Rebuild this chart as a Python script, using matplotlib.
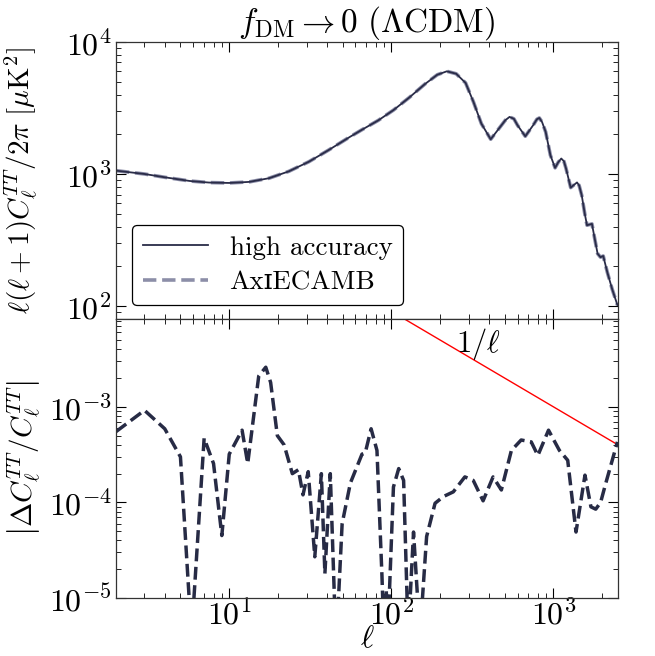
import numpy as np
import matplotlib
matplotlib.use('Agg')
import matplotlib.pyplot as plt

# %% Data
# top panel: l(l+1)C_l/2pi [muK^2]
ell_top = [2, 3, 4, 5.7, 7.5, 10, 13.3, 17.6, 23.3, 31, 41, 55, 66, 83, 103, 129,
           161, 192, 220, 251, 287, 321, 359, 410, 469, 505, 536, 570, 600, 670,
           749, 790, 818, 850, 895, 957, 1023, 1070, 1117, 1160, 1195, 1277, 1340,
           1397, 1440, 1494, 1560, 1610, 1727, 1800, 1871, 1950, 2027, 2150, 2300,
           2480]
dl_top = [1062, 1002, 946, 887, 863, 857, 873, 931, 1049, 1241, 1520, 1900, 2170,
          2550, 3050, 3800, 4800, 5650, 6000, 5750, 4900, 3515, 2410, 1835, 2275,
          2560, 2710, 2620, 2343, 1933, 2343, 2600, 2660, 2480, 2085, 1390, 1115,
          1230, 1312, 1250, 1103, 790, 830, 865, 820, 690, 500, 410, 420, 320, 250,
          235, 240, 180, 135, 102]

# bottom panel: relative difference
ell_bot = [2, 3, 4, 5, 5.85, 7, 8, 9, 10, 12, 13, 15.2, 16.8, 18, 19.8, 21.8, 24.5,
           26.7, 28.5, 30.7, 33.7, 37, 38.9, 42, 45.6, 49.7, 55.9, 65.9, 69, 75,
           81.5, 87.5, 90, 93, 95, 103, 111, 119, 127, 137, 150, 165, 186, 209,
           241, 284, 320, 368, 424, 477, 550, 632, 729, 801, 932, 1088, 1224,
           1377, 1564, 1702, 1822, 1953, 2100, 2480]
rel_bot = [5.5e-4, 9.2e-4, 5.9e-4, 3.0e-4, 4e-6, 4.7e-4, 2.55e-4, 4.5e-5, 3.2e-4,
           5.7e-4, 2.55e-4, 2.1e-3, 2.6e-3, 1.8e-3, 5.0e-4, 4.0e-4, 2.0e-4, 2.2e-4,
           1.2e-4, 2.1e-4, 2.7e-5, 2.0e-4, 1.8e-5, 2.0e-4, 3e-6, 6.0e-5, 1.6e-4,
           3.2e-4, 3.3e-4, 5.9e-4, 3.5e-4, 1.7e-5, 4e-6, 1.2e-5, 4e-6, 1.45e-4,
           2.26e-4, 1.7e-4, 4e-6, 4.9e-5, 4e-6, 4.4e-5, 9.8e-5, 1.15e-4, 1.29e-4,
           1.85e-4, 1.7e-4, 1.04e-4, 1.85e-4, 1.35e-4, 3.5e-4, 4.5e-4, 4.3e-4,
           3.1e-4, 5.7e-4, 3.5e-4, 2.76e-4, 4.9e-5, 1.93e-4, 9.0e-5, 8.5e-5,
           1.0e-4, 1.58e-4, 4.3e-4]

ell_ref = [2, 2500]   # end points of the 1/l guide

# %% Style
plt.rcParams['font.family'] = ['cmr10', 'DejaVu Serif']
plt.rcParams['mathtext.fontset'] = 'cm'
plt.rcParams['axes.formatter.use_mathtext'] = True
FontSize = 23

fig = plt.figure(figsize=(6.55, 6.56), dpi=100)
ax1 = fig.add_axes([0.177, 0.5137, 0.7665, 0.4223])
ax2 = fig.add_axes([0.177, 0.0884, 0.7665, 0.4253], sharex=ax1)

# %% Top panel
ax1.loglog(ell_top, dl_top, ls='--', lw=2.6, color='#8c8ea8', label='Ax\u026aECAMB')
ax1.loglog(ell_top, dl_top, ls='-', lw=1.3, color='#2a2c48', label='high accuracy')
h, l = ax1.get_legend_handles_labels()
leg = ax1.legend(h[::-1], l[::-1], loc='lower left', bbox_to_anchor=(0.032, 0.05),
                 borderaxespad=0, prop=dict(family=['cmr10', 'DejaVu Serif'], size=19.5),
                 frameon=True, fancybox=True, edgecolor='black', framealpha=1,
                 handlelength=2.4, labelspacing=0.4)
leg.get_frame().set_linewidth(0.9)
ax1.set_ylim(80, 1e4)
ax1.set_ylabel(r'$\ell(\ell+1)C_\ell^{TT}/2\pi\ [\mu{\rm K}^2]$', fontsize=21)
ax1.set_title(r'$f_{\rm DM}\rightarrow 0\ (\Lambda{\rm CDM})$', fontsize=24, pad=4)
ax1.tick_params(labelbottom=False)

# %% Bottom panel
ell_line = np.geomspace(ell_ref[0], ell_ref[1], 50)
ax2.loglog(ell_line, 1/ell_line, color='red', lw=1.0)
ax2.loglog(ell_bot, rel_bot, ls='--', lw=2.5, color='#272b45')
ax2.text(345, 4.6e-3, r'$1/\ell$', fontsize=22, ha='center', va='center')
ax2.set_ylim(1e-5, 8.3e-3)
ax2.set_xlim(2, 2500)
ax2.set_ylabel(r'$\left|\Delta C_\ell^{TT}/C_\ell^{TT}\right|$', fontsize=21)
ax2.set_xlabel(r'$\ell$', fontsize=23)

for ax in (ax1, ax2):
    ax.tick_params(axis='both', which='both', direction='in', top=True, right=True,
                   labelsize=FontSize, pad=3)
    ax.tick_params(axis='x', pad=0)
    ax.tick_params(which='major', length=7, width=0.8)
    ax.tick_params(which='minor', length=3.5, width=0.6)
    for s in ax.spines.values():
        s.set_linewidth(0.9)
        s.set_color('#333333')

ax1.yaxis.set_label_coords(-0.152, 0.5)
ax2.yaxis.set_label_coords(-0.145, 0.5)
ax2.xaxis.set_label_coords(0.5, -0.1)

fig.savefig('out.png', dpi=100)
